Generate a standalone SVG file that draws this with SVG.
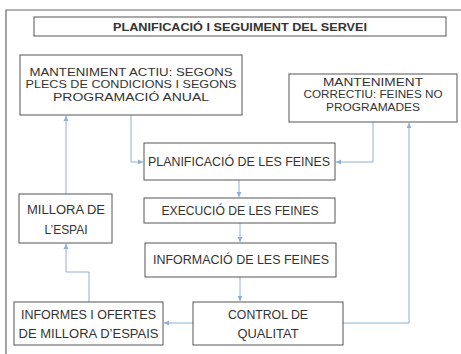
<svg xmlns="http://www.w3.org/2000/svg" width="461" height="354" viewBox="0 0 461 354">
<style>
.box{fill:#fff;stroke:#555;stroke-width:1}
.t{font-family:"Liberation Sans",Arial,sans-serif;font-size:12px;fill:#333;text-anchor:middle}
.m{font-size:11px}
.s{font-size:10px}
.b{font-weight:bold;font-size:11px}
.c{fill:none;stroke:#8fb0d3;stroke-width:1;marker-end:url(#a)}
</style>
<defs>
<marker id="a" markerWidth="6" markerHeight="6" refX="5" refY="3" orient="auto" markerUnits="userSpaceOnUse">
<path d="M0,0.5 L5,3 L0,5.5 z" fill="#8fb0d3"/>
</marker>
</defs>
<rect width="461" height="354" fill="#fff"/>
<path d="M6,354 V10 H461" fill="none" stroke="#666" stroke-width="1.2"/>
<g id="title"><rect class="box" x="34" y="17" width="412" height="19"/><text class="t b" x="240" y="30.5" textLength="254" lengthAdjust="spacingAndGlyphs">PLANIFICACIÓ I SEGUIMENT DEL SERVEI</text></g>
<g id="connectors">
<path class="c" d="M131,115 V162 H143"/>
<path class="c" d="M373,122 V162 H336"/>
<path class="c" d="M239,180 V197"/>
<path class="c" d="M240,223 V242"/>
<path class="c" d="M240,277 V301"/>
<path class="c" d="M193,323 H164"/>
<path class="c" d="M343,323 H409 V123"/>
<path class="c" d="M89,302 V272 H66 V244"/>
<path class="c" d="M66,194 V116"/>
</g>
<g id="actiu"><rect class="box" x="20" y="55" width="222" height="60"/>
<text class="t m" x="131" y="76" textLength="203" lengthAdjust="spacingAndGlyphs">MANTENIMENT ACTIU: SEGONS</text>
<text class="t m" x="131" y="88" textLength="211" lengthAdjust="spacingAndGlyphs">PLECS DE CONDICIONS I SEGONS</text>
<text class="t m" x="131" y="100.5" textLength="156" lengthAdjust="spacingAndGlyphs">PROGRAMACIÓ ANUAL</text></g>
<g id="correctiu"><rect class="box" x="289" y="74" width="168" height="48"/>
<text class="t s" x="373" y="86" textLength="100" lengthAdjust="spacingAndGlyphs">MANTENIMENT</text>
<text class="t s" x="373" y="98" textLength="139" lengthAdjust="spacingAndGlyphs">CORRECTIU: FEINES NO</text>
<text class="t s" x="373" y="111" textLength="94" lengthAdjust="spacingAndGlyphs">PROGRAMADES</text></g>
<g id="planificacio"><rect class="box" x="144" y="143" width="191" height="37"/>
<text class="t" x="239" y="165.5" textLength="182" lengthAdjust="spacingAndGlyphs">PLANIFICACIÓ DE LES FEINES</text></g>
<g id="execucio"><rect class="box" x="144" y="198" width="191" height="25"/>
<text class="t" x="240" y="214.5" textLength="157" lengthAdjust="spacingAndGlyphs">EXECUCIÓ DE LES FEINES</text></g>
<g id="millora"><rect class="box" x="19" y="194" width="93" height="49"/>
<text class="t" x="66" y="213.5" textLength="78" lengthAdjust="spacingAndGlyphs">MILLORA DE</text>
<text class="t" x="66" y="233.5" textLength="43" lengthAdjust="spacingAndGlyphs">L’ESPAI</text></g>
<g id="informacio"><rect class="box" x="145" y="243" width="191" height="34"/>
<text class="t" x="241" y="263.5" textLength="176" lengthAdjust="spacingAndGlyphs">INFORMACIÓ DE LES FEINES</text></g>
<g id="informes"><rect class="box" x="14" y="302" width="149" height="43"/>
<text class="t" x="88.5" y="318.5" textLength="135" lengthAdjust="spacingAndGlyphs">INFORMES I OFERTES</text>
<text class="t" x="88.5" y="337.5" textLength="140" lengthAdjust="spacingAndGlyphs">DE MILLORA D’ESPAIS</text></g>
<g id="control"><rect class="box" x="193" y="302" width="150" height="43"/>
<text class="t" x="268" y="318.5" textLength="80" lengthAdjust="spacingAndGlyphs">CONTROL DE</text>
<text class="t" x="268" y="337.5" textLength="61" lengthAdjust="spacingAndGlyphs">QUALITAT</text></g>
</svg>
